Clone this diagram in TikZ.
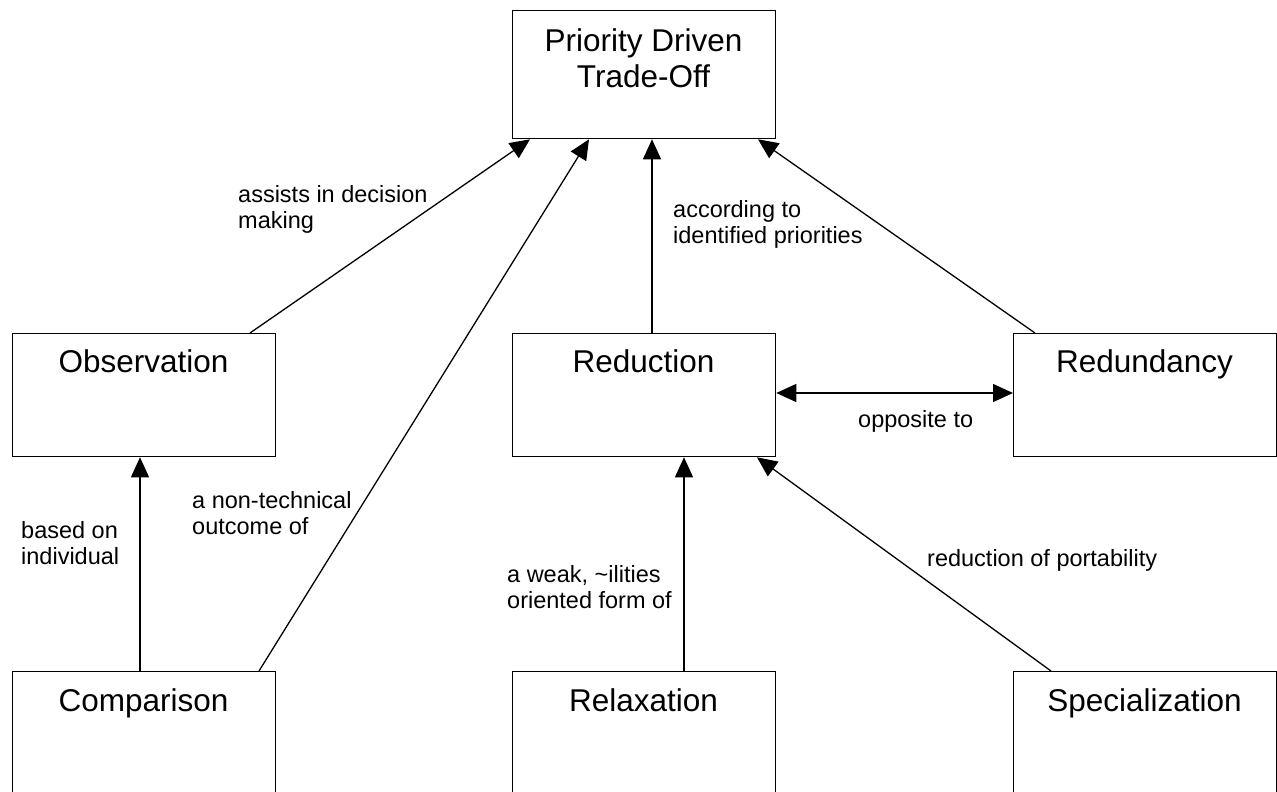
\documentclass[tikz,border=0pt]{standalone}
\usepackage{fontspec}
\setmainfont{Liberation Sans}
\usetikzlibrary{arrows.meta,calc}
\begin{document}
\begin{tikzpicture}[x=1pt,y=-1pt,
  box/.style={draw=black,line width=1.3pt,rectangle,anchor=north west,inner sep=0pt,minimum width=263pt,minimum height=123pt},
  title/.style={font=\fontsize{31.5}{36}\selectfont,inner sep=0pt,align=center},
  lbl/.style={font=\fontsize{23.5}{26}\selectfont,inner sep=0pt,align=left,anchor=north west},
  arr/.style={line width=1.3pt,-{Triangle[length=20pt,width=18pt]}},
  darr/.style={line width=1.3pt,{Triangle[length=20pt,width=18pt]}-{Triangle[length=20pt,width=18pt]}}]
\useasboundingbox (0,0) rectangle (1277,792);
\fill[white] (0,0) rectangle (1277,792);
% boxes
\node[box,minimum height=128pt] (top) at (512,10) {};
\node[box] (obs) at (12,333) {};
\node[box] (red) at (512,333) {};
\node[box] (rdy) at (1013,333) {};
\node[box] (comp) at (12,671) {};
\node[box] (relax) at (512,671) {};
\node[box] (spec) at (1013,671) {};
% titles
\node[title,anchor=north] (ttop) at (643.5,28) {Priority Driven\\Trade-Off};
\node[title,anchor=base] (tobs) at (143.5,372) {Observation};
\node[title,anchor=base] (tred) at (643.5,372) {Reduction};
\node[title,anchor=base] (trdy) at (1144.5,372) {Redundancy};
\node[title,anchor=base] (tcomp) at (143.5,711) {Comparison};
\node[title,anchor=base] (trelax) at (643.5,711) {Relaxation};
\node[title,anchor=base] (tspec) at (1144.5,711) {Specialization};
% connectors
\draw[arr] ($(obs.north west)+(238,0)$) -- ($(top.south west)+(18,0)$);
\draw[arr] ($(comp.north west)+(247,0)$) -- ($(top.south west)+(77,0)$);
\draw[arr] ($(red.north west)+(140,0)$) -- ($(top.south west)+(140,0)$);
\draw[arr] ($(rdy.north west)+(22,0)$) -- ($(top.south west)+(246,0)$);
\draw[arr] ($(comp.north west)+(128,0)$) -- ($(obs.south west)+(128,0)$);
\draw[arr] ($(relax.north west)+(172,0)$) -- ($(red.south west)+(172,0)$);
\draw[arr] ($(spec.north west)+(38,0)$) -- ($(red.south west)+(245,0)$);
\draw[darr] ($(red.north east)+(0,60)$) -- ($(rdy.north west)+(0,60)$);
% labels
\node[lbl] (l1) at (238,185) {assists in decision\\making};
\node[lbl] (l2) at (673,200) {according to\\identified priorities};
\node[lbl] (l3) at (21,521) {based on\\individual};
\node[lbl] (l4) at (192,491) {a non-technical\\outcome of};
\node[lbl] (l5) at (507,565) {a weak, \textasciitilde ilities\\oriented form of};
\node[lbl] (l6) at (927,549) {reduction of portability};
\node[lbl] (l7) at (858,410) {opposite to};
\end{tikzpicture}
\end{document}
